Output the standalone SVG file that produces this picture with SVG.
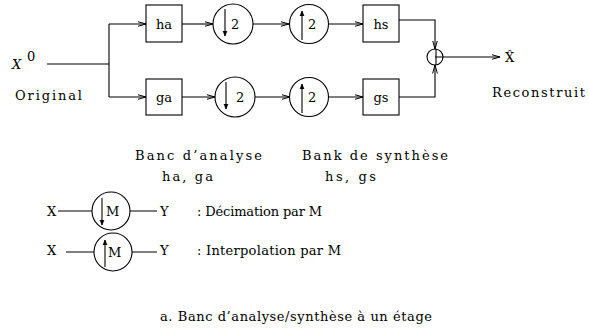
<svg xmlns="http://www.w3.org/2000/svg" width="589" height="328" viewBox="0 0 589 328" font-family="'DejaVu Serif', 'Liberation Serif', serif">
<defs>
<marker id="ah" markerWidth="9" markerHeight="6" refX="8.5" refY="3" orient="auto" markerUnits="userSpaceOnUse">
<path d="M0,0.6 L8.5,3 L0,5.4" fill="none" stroke="#000" stroke-width="1"/>
</marker>
<marker id="sh" markerWidth="6" markerHeight="6" refX="5" refY="3" orient="auto" markerUnits="userSpaceOnUse">
<path d="M0,1 L5,3 L0,5 Z" fill="#000" stroke="#000" stroke-width="0.6"/>
</marker>
</defs>
<style>
text{font-family:"DejaVu Serif","Liberation Serif",serif;font-size:13px;fill:#000}
.b{fill:#fff;stroke:#000;stroke-width:1.1}
.c{fill:#fff;stroke:#000;stroke-width:1.1}
.l{fill:none;stroke:#000;stroke-width:1.1}
.a{fill:none;stroke:#000;stroke-width:1.1;marker-end:url(#ah)}
.s{fill:none;stroke:#000;stroke-width:1.1;marker-end:url(#sh)}
.m{text-anchor:middle}
</style>
<rect width="589" height="328" fill="#fff"/>
<g id="connectors">
<path class="l" d="M47,64 H109 M109,24 V97"/>
<path class="a" d="M109,24 H146"/>
<path class="a" d="M109,97 H146"/>
<path class="a" d="M182,24 H213"/>
<path class="a" d="M182,97 H215"/>
<path class="a" d="M253,24 H289"/>
<path class="a" d="M255,97 H290"/>
<path class="a" d="M329,24 H363"/>
<path class="a" d="M329,97 H363"/>
<path class="a" d="M399,20 H435 V49"/>
<path class="a" d="M399,97 H435 V65"/>
<path class="a" d="M443,57 H500"/>
<path class="l" d="M58,211 H92 M130,211 H157"/>
<path class="l" d="M66,252 H94 M132,252 H157"/>
</g>
<g id="input">
<text x="12" y="69" font-style="italic" font-size="16">X</text>
<text x="27" y="61" font-size="11">0</text>
<text x="15" y="100" textLength="67" lengthAdjust="spacing">Original</text>
</g>
<g id="ha"><rect class="b" x="146" y="5" width="36" height="37"/><text class="m" x="164" y="29">ha</text></g>
<g id="ga"><rect class="b" x="146" y="79" width="36" height="36"/><text class="m" x="164" y="102">ga</text></g>
<g id="down1"><circle class="c" cx="233" cy="24" r="20"/><path class="s" d="M225,9 V36"/><text x="231" y="29">2</text></g>
<g id="down2"><circle class="c" cx="235" cy="97" r="20"/><path class="s" d="M226,82 V109"/><text x="236" y="102">2</text></g>
<g id="up1"><circle class="c" cx="309" cy="24" r="19.5"/><path class="s" d="M302,40 V11"/><text x="308" y="29">2</text></g>
<g id="up2"><circle class="c" cx="309" cy="97" r="19.5"/><path class="s" d="M302,113 V84"/><text x="308" y="102">2</text></g>
<g id="hs"><rect class="b" x="363" y="5" width="36" height="37"/><text class="m" x="381" y="29">hs</text></g>
<g id="gs"><rect class="b" x="363" y="79" width="36" height="36"/><text class="m" x="381" y="102">gs</text></g>
<g id="adder"><circle class="c" cx="435" cy="57" r="8"/><path class="l" d="M436,49 V65 M435,57 H443"/></g>
<g id="output">
<text x="505" y="62">X̂</text>
<text x="492" y="97" textLength="93" lengthAdjust="spacing">Reconstruit</text>
</g>
<g id="labels">
<text x="135" y="160" textLength="127" lengthAdjust="spacing">Banc d’analyse</text>
<text x="302" y="160" textLength="146" lengthAdjust="spacing">Bank de synthèse</text>
<text x="162" y="181" textLength="51" lengthAdjust="spacing">ha, ga</text>
<text x="325" y="181" textLength="51" lengthAdjust="spacing">hs, gs</text>
</g>
<g id="legend-decim">
<text x="47" y="216">X</text>
<circle class="c" cx="111" cy="211" r="19"/>
<path class="s" d="M102,198 V225"/>
<text x="106" y="216">M</text>
<text x="160" y="216">Y</text>
<text x="197" y="216" textLength="125" lengthAdjust="spacing">: Décimation par M</text>
</g>
<g id="legend-interp">
<text x="47" y="255">X</text>
<circle class="c" cx="113" cy="252" r="19"/>
<path class="s" d="M105,267 V240"/>
<text x="108" y="257">M</text>
<text x="160" y="255">Y</text>
<text x="197" y="255" textLength="144" lengthAdjust="spacing">: Interpolation par M</text>
</g>
<g id="caption">
<text x="160" y="321" textLength="272" lengthAdjust="spacing">a. Banc d’analyse/synthèse à un étage</text>
</g>
</svg>
